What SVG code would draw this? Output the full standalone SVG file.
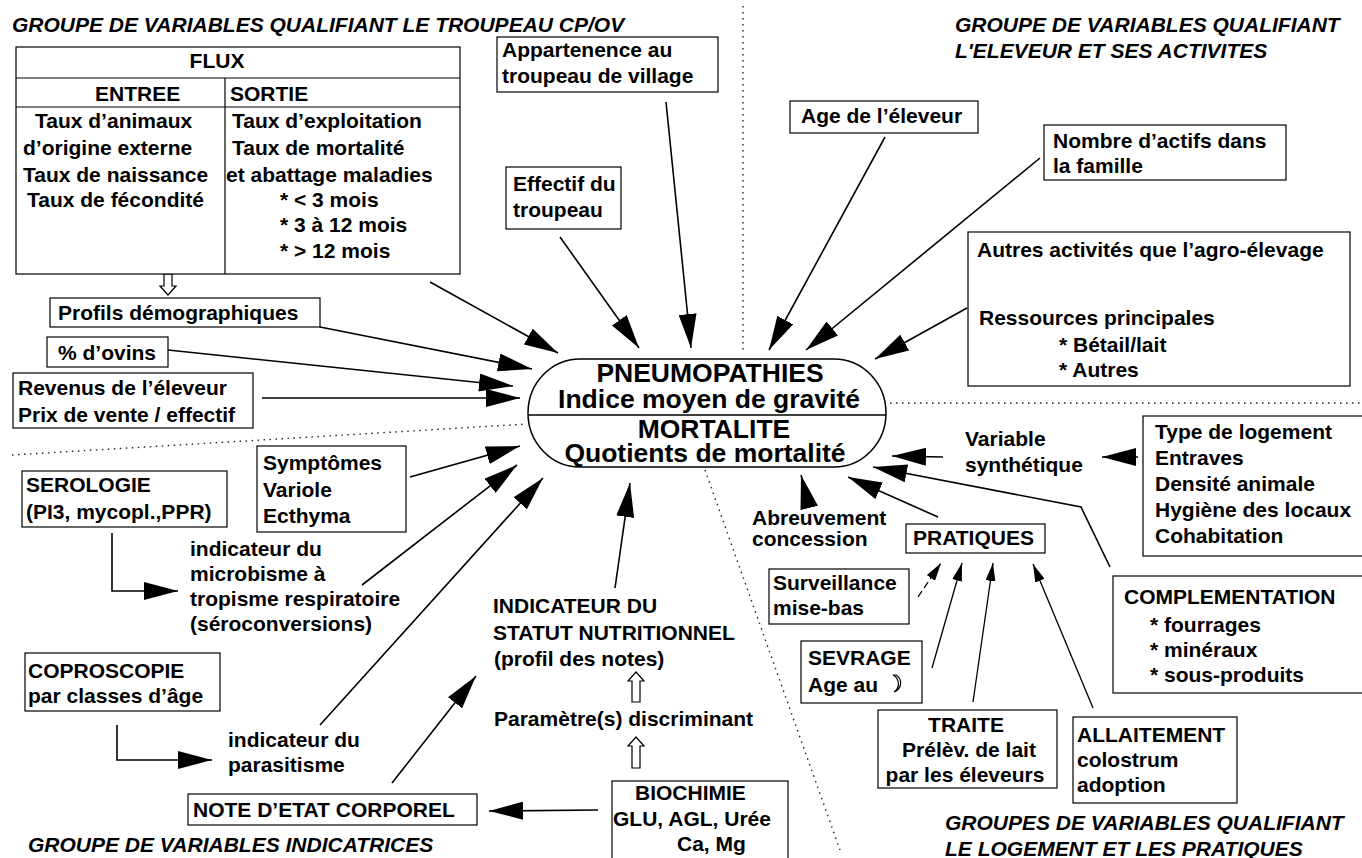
<svg xmlns="http://www.w3.org/2000/svg" width="1362" height="858" viewBox="0 0 1362 858">
<style>
.t{font-family:"Liberation Sans",Arial,Helvetica,sans-serif;font-weight:bold;font-size:21px;fill:#000}
.ti{font-style:italic}
.c{font-size:26.5px}
.box{fill:#fff;stroke:#000;stroke-width:1.2}
.ln{fill:none;stroke:#000;stroke-width:1.6;marker-end:url(#ah)}
.lns{fill:none;stroke:#000;stroke-width:1.3;marker-end:url(#ahs)}
.dot{fill:none;stroke:#222;stroke-width:1.4;stroke-dasharray:1.5 4.5}
.hol{fill:#fff;stroke:#000;stroke-width:1.2}
</style>
<defs>
<marker id="ah" markerUnits="userSpaceOnUse" markerWidth="34" markerHeight="18" refX="34" refY="9" orient="auto"><path d="M0,0 L34,9 L0,18 z" fill="#000"/></marker>
<marker id="ahs" markerUnits="userSpaceOnUse" markerWidth="18" markerHeight="10" refX="18" refY="5" orient="auto"><path d="M0,0 L18,5 L0,10 z" fill="#000"/></marker>
</defs>
<rect width="1362" height="858" fill="#fff"/>

<g id="separators">
<path class="dot" d="M743,6 L743,352"/>
<path class="dot" d="M890,403 L1362,403"/>
<path class="dot" d="M12,455 L527,424"/>
<path class="dot" d="M705,470 L840,850"/>
</g>

<g id="titles">
<text class="t ti" x="12" y="32">GROUPE DE VARIABLES QUALIFIANT LE TROUPEAU CP/OV</text>
<text class="t ti" x="955" y="32">GROUPE DE VARIABLES QUALIFIANT</text>
<text class="t ti" x="955" y="58">L'ELEVEUR ET SES ACTIVITES</text>
<text class="t ti" x="28" y="852">GROUPE DE VARIABLES INDICATRICES</text>
<text class="t ti" x="945" y="830">GROUPES DE VARIABLES QUALIFIANT</text>
<text class="t ti" x="945" y="856">LE LOGEMENT ET LES PRATIQUES</text>
</g>

<g id="connectors">
<path class="ln" d="M430,282 L558,353"/>
<path class="ln" d="M320,327 L532,369"/>
<path class="ln" d="M168,350 L513,386"/>
<path class="ln" d="M262,398 L520,398"/>
<path class="ln" d="M410,477 L520,446"/>
<path class="ln" d="M362,585 L517,465"/>
<path class="ln" d="M320,725 L543,478"/>
<path class="ln" d="M392,783 L476,676"/>
<path class="ln" d="M615,588 L630,483"/>
<path class="ln" d="M560,237 L639,348"/>
<path class="ln" d="M666,102 L691,348"/>
<path class="ln" d="M885,137 L769,350"/>
<path class="ln" d="M1040,158 L806,350"/>
<path class="ln" d="M967,308 L875,359"/>
<path class="ln" d="M943,457 L892,456"/>
<path class="ln" d="M1138,457 L1102,457"/>
<path class="ln" d="M1110,567 L1081,507 L873,467"/>
<path class="ln" d="M938,517 L848,477"/>
<path class="ln" d="M809,507 L801,475"/>
<path class="ln" d="M598,810 L489,811"/>
<path class="ln" d="M112,533 L112,591 L178,591"/>
<path class="ln" d="M117,725 L117,760 L212,760"/>
<path class="lns" d="M918,597 L941,563" stroke-dasharray="7 4"/>
<path class="lns" d="M932,668 L962,563"/>
<path class="lns" d="M973,702 L993,563"/>
<path class="lns" d="M1093,708 L1033,564"/>
<path class="hol" d="M164,274 L172,274 L172,286 L176,286 L168,295 L160,286 L164,286 Z"/>
<path class="hol" d="M1111,260 L1119,270 L1115,270 L1115,296 L1119,296 L1111,306 L1103,296 L1107,296 L1107,270 L1103,270 Z"/>
<path class="hol" d="M636,672 L644,681 L640,681 L640,702 L632,702 L632,681 L628,681 Z"/>
<path class="hol" d="M636,737 L644,746 L640,746 L640,768 L632,768 L632,746 L628,746 Z"/>
</g>

<g id="center">
<rect x="528" y="359" width="358" height="108" rx="52" ry="54" fill="#fff" stroke="#000" stroke-width="1.5"/>
<line x1="528" y1="415" x2="886" y2="415" stroke="#000" stroke-width="1.5"/>
<text class="t c" x="710" y="382" text-anchor="middle">PNEUMOPATHIES</text>
<text class="t c" x="709" y="408" text-anchor="middle">Indice moyen de gravité</text>
<text class="t c" x="714" y="438" text-anchor="middle">MORTALITE</text>
<text class="t c" x="705" y="462" text-anchor="middle">Quotients de mortalité</text>
</g>

<g id="flux">
<rect class="box" x="16" y="47" width="444" height="227"/>
<line x1="16" y1="78" x2="460" y2="78" stroke="#000" stroke-width="1.2"/>
<line x1="16" y1="107" x2="460" y2="107" stroke="#000" stroke-width="1.2"/>
<line x1="225" y1="78" x2="225" y2="274" stroke="#000" stroke-width="1.2"/>
<text class="t" x="217" y="68" text-anchor="middle">FLUX</text>
<text class="t" x="95" y="101">ENTREE</text>
<text class="t" x="230" y="101">SORTIE</text>
<text class="t" x="35" y="128">Taux d’animaux</text>
<text class="t" x="23" y="155">d’origine externe</text>
<text class="t" x="23" y="182">Taux de naissance</text>
<text class="t" x="27" y="207">Taux de fécondité</text>
<text class="t" x="232" y="128">Taux d’exploitation</text>
<text class="t" x="232" y="155">Taux de mortalité</text>
<text class="t" x="226" y="182">et abattage maladies</text>
<text class="t" x="280" y="207">* &lt; 3 mois</text>
<text class="t" x="280" y="232">* 3 à 12 mois</text>
<text class="t" x="280" y="258">* &gt; 12 mois</text>
</g>

<g id="appartenence">
<rect class="box" x="497" y="37" width="221" height="55"/>
<text class="t" x="502" y="57">Appartenence au</text>
<text class="t" x="502" y="83">troupeau de village</text>
</g>
<g id="effectif">
<rect class="box" x="506" y="167" width="115" height="62"/>
<text class="t" x="513" y="191">Effectif du</text>
<text class="t" x="513" y="217">troupeau</text>
</g>
<g id="age">
<rect class="box" x="790" y="101" width="188" height="32"/>
<text class="t" x="801" y="123">Age de l’éleveur</text>
</g>
<g id="nombre">
<rect class="box" x="1044" y="125" width="242" height="55"/>
<text class="t" x="1053" y="148">Nombre d’actifs dans</text>
<text class="t" x="1053" y="173">la famille</text>
</g>
<g id="autres">
<rect class="box" x="968" y="232" width="382" height="154"/>
<text class="t" x="977" y="257">Autres activités que l’agro-élevage</text>
<text class="t" x="979" y="325">Ressources principales</text>
<text class="t" x="1059" y="352">* Bétail/lait</text>
<text class="t" x="1059" y="377">* Autres</text>
</g>
<g id="profils">
<rect class="box" x="50" y="298" width="270" height="29"/>
<text class="t" x="58" y="320">Profils démographiques</text>
</g>
<g id="ovins">
<rect class="box" x="47" y="337" width="121" height="30"/>
<text class="t" x="58" y="360">% d’ovins</text>
</g>
<g id="revenus">
<rect class="box" x="13" y="373" width="240" height="55"/>
<text class="t" x="18" y="395">Revenus de l’éleveur</text>
<text class="t" x="18" y="422">Prix de vente / effectif</text>
</g>
<g id="symptomes">
<rect class="box" x="257" y="446" width="149" height="86"/>
<text class="t" x="263" y="470">Symptômes</text>
<text class="t" x="263" y="497">Variole</text>
<text class="t" x="263" y="523">Ecthyma</text>
</g>
<g id="serologie">
<rect class="box" x="22" y="471" width="205" height="56"/>
<text class="t" x="26" y="492">SEROLOGIE</text>
<text class="t" x="26" y="519">(PI3, mycopl.,PPR)</text>
</g>
<g id="microbisme">
<text class="t" x="190" y="556">indicateur du</text>
<text class="t" x="190" y="581">microbisme à</text>
<text class="t" x="190" y="606">tropisme respiratoire</text>
<text class="t" x="190" y="631">(séroconversions)</text>
</g>
<g id="coproscopie">
<rect class="box" x="25" y="653" width="195" height="58"/>
<text class="t" x="28" y="678">COPROSCOPIE</text>
<text class="t" x="28" y="703">par classes d’âge</text>
</g>
<g id="parasitisme">
<text class="t" x="228" y="747">indicateur du</text>
<text class="t" x="228" y="772">parasitisme</text>
</g>
<g id="note">
<rect class="box" x="188" y="794" width="289" height="31"/>
<text class="t" x="193" y="817">NOTE D’ETAT CORPOREL</text>
</g>
<g id="indicateur">
<text class="t" x="493" y="613">INDICATEUR DU</text>
<text class="t" x="493" y="640">STATUT NUTRITIONNEL</text>
<text class="t" x="494" y="666">(profil des notes)</text>
</g>
<g id="parametre">
<text class="t" x="494" y="726">Paramètre(s) discriminant</text>
</g>
<g id="biochimie">
<rect class="box" x="612" y="781" width="176" height="90"/>
<text class="t" x="635" y="800">BIOCHIMIE</text>
<text class="t" x="613" y="826">GLU, AGL, Urée</text>
<text class="t" x="677" y="851">Ca, Mg</text>
</g>
<g id="variable">
<text class="t" x="965" y="446">Variable</text>
<text class="t" x="965" y="472">synthétique</text>
</g>
<g id="logement">
<rect class="box" x="1143" y="416" width="230" height="140"/>
<text class="t" x="1155" y="439">Type de logement</text>
<text class="t" x="1155" y="465">Entraves</text>
<text class="t" x="1155" y="491">Densité animale</text>
<text class="t" x="1155" y="517">Hygiène des locaux</text>
<text class="t" x="1155" y="543">Cohabitation</text>
</g>
<g id="abreuvement">
<text class="t" x="752" y="525">Abreuvement</text>
<text class="t" x="752" y="546">concession</text>
</g>
<g id="pratiques">
<rect class="box" x="906" y="524" width="139" height="29"/>
<text class="t" x="913" y="545">PRATIQUES</text>
</g>
<g id="surveillance">
<rect class="box" x="769" y="569" width="140" height="55"/>
<text class="t" x="773" y="590">Surveillance</text>
<text class="t" x="773" y="615">mise-bas</text>
</g>
<g id="sevrage">
<rect class="box" x="801" y="641" width="121" height="62"/>
<text class="t" x="808" y="665">SEVRAGE</text>
<text class="t" x="808" y="692">Age au</text>
<path d="M893,675 C899,678 901,687 894,692 C902,689 903,679 896,675 Z" fill="#fff" stroke="#000" stroke-width="1.2"/>
</g>
<g id="traite">
<rect class="box" x="878" y="710" width="179" height="78"/>
<text class="t" x="966" y="732" text-anchor="middle">TRAITE</text>
<text class="t" x="969" y="757" text-anchor="middle">Prélèv. de lait</text>
<text class="t" x="965" y="782" text-anchor="middle">par les éleveurs</text>
</g>
<g id="allaitement">
<rect class="box" x="1073" y="717" width="164" height="86"/>
<text class="t" x="1077" y="742">ALLAITEMENT</text>
<text class="t" x="1077" y="767">colostrum</text>
<text class="t" x="1077" y="792">adoption</text>
</g>
<g id="complementation">
<rect class="box" x="1113" y="576" width="260" height="117"/>
<text class="t" x="1124" y="604">COMPLEMENTATION</text>
<text class="t" x="1150" y="632">* fourrages</text>
<text class="t" x="1150" y="657">* minéraux</text>
<text class="t" x="1150" y="682">* sous-produits</text>
</g>
</svg>
